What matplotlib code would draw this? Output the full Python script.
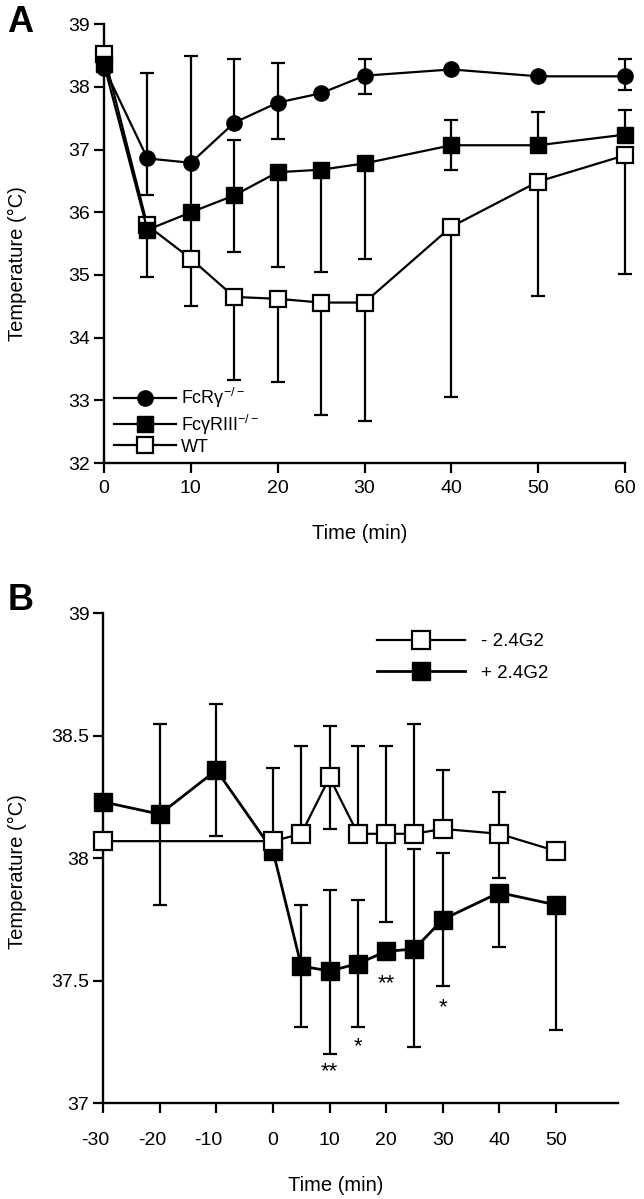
import matplotlib.pyplot as plt
from matplotlib import transforms
import numpy as np

plt.rcParams['font.family'] = ['Liberation Sans', 'DejaVu Sans']
plt.rcParams['mathtext.default'] = 'regular'

# ---- panel A data ----
time_a = [0, 5, 10, 15, 20, 25, 30, 40, 50, 60]
fcrg = [38.31, 36.86, 36.79, 37.43, 37.75, 37.90, 38.18, 38.28, 38.17, 38.17]
fcrg_up = [0, 1.37, 1.70, 1.02, 0.64, 0, 0.26, 0, 0, 0.27]
fcrg_lo = [0, 0.58, 0.79, 0, 0.58, 0, 0.29, 0, 0, 0.22]
fcgr3 = [38.36, 35.72, 36.00, 36.27, 36.64, 36.68, 36.78, 37.07, 37.07, 37.24]
fcgr3_up = [0, 0, 0, 0.89, 0, 0, 0, 0.40, 0.53, 0.40]
fcgr3_lo = [0, 0.75, 0.74, 0.90, 1.51, 1.64, 1.52, 0.40, 0, 0]
wt = [38.52, 35.79, 35.26, 34.65, 34.62, 34.56, 34.56, 35.77, 36.49, 36.91]
wt_up = [0, 0, 0, 0, 0, 0, 0, 0, 0, 0]
wt_lo = [0, 0, 0.75, 1.32, 1.32, 1.79, 1.89, 2.72, 1.82, 1.89]

# ---- panel B data ----
time_b_minus = [-30, 0, 5, 10, 15, 20, 25, 30, 40, 50]
minus = [38.07, 38.07, 38.10, 38.33, 38.10, 38.10, 38.10, 38.12, 38.10, 38.03]
minus_up = [0, 0.30, 0.36, 0.21, 0.36, 0.36, 0.45, 0.24, 0.17, 0]
minus_lo = [0, 0, 0, 0.21, 0, 0.36, 0, 0, 0.18, 0]
time_b_plus = [-30, -20, -10, 0, 5, 10, 15, 20, 25, 30, 40, 50]
plus = [38.23, 38.18, 38.36, 38.03, 37.56, 37.54, 37.57, 37.62, 37.63, 37.75, 37.86, 37.81]
plus_up = [0, 0.37, 0.27, 0, 0.25, 0.33, 0.26, 0, 0.41, 0.27, 0, 0]
plus_lo = [0, 0.37, 0.27, 0, 0.25, 0.34, 0.26, 0, 0.40, 0.27, 0.22, 0.51]
star_t = [10, 15, 20, 30]
star_y = [37.13, 37.23, 37.49, 37.39]
star_txt = ['**', '*', '**', '*']

W, H = 644, 1199
fig = plt.figure(figsize=(W / 100, H / 100), dpi=100)


def px_axes(left, top, right, bottom):
    return fig.add_axes([left / W, 1 - bottom / H, (right - left) / W, (bottom - top) / H])


def errs(ax, x, y, lo, up):
    x, y, lo, up = map(np.asarray, (x, y, lo, up))
    m = (lo > 0) | (up > 0)
    ax.errorbar(x[m], y[m], yerr=[lo[m], up[m]], fmt='none', ecolor='k',
                elinewidth=1.6, capsize=5, capthick=1.6, zorder=2, clip_on=False)


def style(ax):
    for s in ['top', 'right']:
        ax.spines[s].set_visible(False)
    for s in ['left', 'bottom']:
        ax.spines[s].set_linewidth(1.7)
    ax.tick_params(direction='out', length=7, width=1.6, labelsize=14)


# ================= A =================
axA = px_axes(104, 24.3, 625, 463)
errs(axA, time_a, wt, wt_lo, wt_up)
errs(axA, time_a, fcrg, fcrg_lo, fcrg_up)
errs(axA, time_a, fcgr3, fcgr3_lo, fcgr3_up)
l_wt, = axA.plot(time_a, wt, '-s', color='k', mfc='white', mec='k', mew=1.6, ms=11,
                 lw=1.6, zorder=3, clip_on=False, label='WT')
l_rg, = axA.plot(time_a, fcrg, '-o', color='k', ms=11, lw=1.6, zorder=4, clip_on=False,
                 label='FcRγ$^{-/-}$')
l_r3, = axA.plot(time_a, fcgr3, '-s', color='k', ms=11, lw=1.6, zorder=5, clip_on=False,
                 label='FcγRIII$^{-/-}$')
axA.set_xlim(0, 60)
axA.set_ylim(32, 39)
axA.set_xticks(range(0, 61, 10))
axA.set_yticks(range(32, 40))
style(axA)
axA.tick_params(axis='x', pad=5)
axA.tick_params(axis='y', pad=3)
axA.set_xlabel('Time (min)', fontsize=14.5)
axA.set_ylabel('Temperature (°C)', fontsize=14.5)
axA.xaxis.set_label_coords(0.491, -0.138)
axA.yaxis.set_label_coords(-0.148, 0.455)
axA.legend(handles=[l_rg, l_r3, l_wt], loc='center left', frameon=False,
           bbox_to_anchor=(114.5 / W, 1 - 421 / H), bbox_transform=fig.transFigure,
           borderpad=0, borderaxespad=0, handlelength=3.4, handletextpad=0.28,
           labelspacing=0.12, fontsize=13)

# ================= B =================
axB = px_axes(103.3, 613.3, 618, 1103.3)
errs(axB, time_b_plus, plus, plus_lo, plus_up)
errs(axB, time_b_minus, minus, minus_lo, minus_up)
l_p, = axB.plot(time_b_plus, plus, '-s', color='k', ms=13, lw=2.0, zorder=3, clip_on=False,
                label='+ 2.4G2')
l_m, = axB.plot(time_b_minus, minus, '-s', color='k', mfc='white', mec='k', mew=1.6, ms=12.5,
                lw=1.6, zorder=4, clip_on=False, label='- 2.4G2')
for t, yv, s in zip(star_t, star_y, star_txt):
    axB.text(t, yv, s, ha='center', va='center', fontsize=16)
axB.set_xlim(-30, 61)
axB.set_ylim(37, 39)
axB.set_xticks(range(-30, 51, 10))
axB.set_xticklabels([str(v) for v in range(-30, 51, 10)])
axB.set_yticks([37, 37.5, 38, 38.5, 39])
axB.set_yticklabels(['37', '37.5', '38', '38.5', '39'])
style(axB)
axB.tick_params(axis='x', pad=14)
axB.tick_params(axis='y', pad=3)
shift = transforms.ScaledTranslation(-8 / 100, 0, fig.dpi_scale_trans)
for lbl in axB.get_xticklabels():
    if lbl.get_text().startswith('-'):
        lbl.set_transform(lbl.get_transform() + shift)
axB.set_xlabel('Time (min)', fontsize=14.5)
axB.set_ylabel('Temperature (°C)', fontsize=14.5)
axB.xaxis.set_label_coords(0.452, -0.148)
axB.yaxis.set_label_coords(-0.148, 0.473)
axB.legend(handles=[l_m, l_p], loc='center left', frameon=False,
           bbox_to_anchor=(376.7 / W, 1 - 657.5 / H), bbox_transform=fig.transFigure,
           borderpad=0, borderaxespad=0, handlelength=4.7, handletextpad=0.85,
           labelspacing=0.75, fontsize=13.5)

fig.text(20 / W, 1 - 22 / H, 'A', fontsize=26, fontweight='bold', ha='center', va='center')
fig.text(21 / W, 1 - 600 / H, 'B', fontsize=26, fontweight='bold', ha='center', va='center')

fig.savefig('out.png', dpi=100)
